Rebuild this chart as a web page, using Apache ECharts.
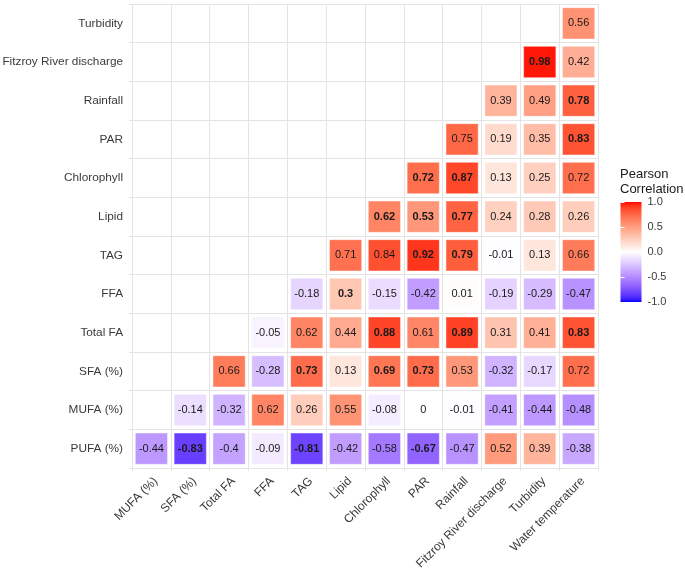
<!DOCTYPE html>
<html>
<head>
<meta charset="utf-8">
<script src="https://cdn.jsdelivr.net/npm/echarts@6/dist/echarts.min.js"></script>
<style>html,body{margin:0;padding:0;background:#fff;}#chart{width:685px;height:571px;}</style>
</head>
<body>
<div id="chart"></div>
<script>
// Categories
const xCategories = ['MUFA (%)','SFA (%)','Total FA','FFA','TAG','Lipid','Chlorophyll','PAR','Rainfall','Fitzroy River discharge','Turbidity','Water temperature'];
const yCategories = ['PUFA (%)','MUFA (%)','SFA (%)','Total FA','FFA','TAG','Lipid','Chlorophyll','PAR','Rainfall','Fitzroy River discharge','Turbidity'];

// Correlation rows (row i starts at x column i)
const rowPUFA    = [-0.44,-0.83,-0.4,-0.09,-0.81,-0.42,-0.58,-0.67,-0.47,0.52,0.39,-0.38];
const rowMUFA    = [-0.14,-0.32,0.62,0.26,0.55,-0.08,0,-0.01,-0.41,-0.44,-0.48];
const rowSFA     = [0.66,-0.28,0.73,0.13,0.69,0.73,0.53,-0.32,-0.17,0.72];
const rowTotalFA = [-0.05,0.62,0.44,0.88,0.61,0.89,0.31,0.41,0.83];
const rowFFA     = [-0.18,0.3,-0.15,-0.42,0.01,-0.19,-0.29,-0.47];
const rowTAG     = [0.71,0.84,0.92,0.79,-0.01,0.13,0.66];
const rowLipid   = [0.62,0.53,0.77,0.24,0.28,0.26];
const rowChl     = [0.72,0.87,0.13,0.25,0.72];
const rowPAR     = [0.75,0.19,0.35,0.83];
const rowRain    = [0.39,0.49,0.78];
const rowFitz    = [0.98,0.42];
const rowTurb    = [0.56];

// Significance flags (bold labels)
const sigPUFA    = [0,1,0,0,1,0,0,1,0,0,0,0];
const sigMUFA    = [0,0,0,0,0,0,0,0,0,0,0];
const sigSFA     = [0,0,1,0,1,1,0,0,0,0];
const sigTotalFA = [0,0,0,1,0,1,0,0,1];
const sigFFA     = [0,1,0,0,0,0,0,0];
const sigTAG     = [0,0,1,1,0,0,0];
const sigLipid   = [1,1,1,0,0,0];
const sigChl     = [1,1,0,0,0];
const sigPAR     = [0,0,0,1];
const sigRain    = [0,0,1];
const sigFitz    = [1,0];
const sigTurb    = [0];

// Legend ticks
const legendMin = -1, legendMax = 1, legendStep = 0.5;
const legendTitle = 'Pearson\nCorrelation';

const rows = [rowPUFA,rowMUFA,rowSFA,rowTotalFA,rowFFA,rowTAG,rowLipid,rowChl,rowPAR,rowRain,rowFitz,rowTurb];
const sigs = [sigPUFA,sigMUFA,sigSFA,sigTotalFA,sigFFA,sigTAG,sigLipid,sigChl,sigPAR,sigRain,sigFitz,sigTurb];
const cellData = [];
rows.forEach((r, i) => r.forEach((v, j) => cellData.push([i + j, i, v, sigs[i][j]])));

// Lab colour interpolation (like ggplot scale_fill_gradient2)
function toLin(c){c/=255;return c<=0.04045?c/12.92:Math.pow((c+0.055)/1.055,2.4);}
function fromLin(c){c=c<=0.0031308?12.92*c:1.055*Math.pow(c,1/2.4)-0.055;return Math.round(Math.max(0,Math.min(1,c))*255);}
function rgb2lab(rgb){
  const r=toLin(rgb[0]),g=toLin(rgb[1]),b=toLin(rgb[2]);
  let X=(0.4124*r+0.3576*g+0.1805*b)/0.95047,Y=(0.2126*r+0.7152*g+0.0722*b),Z=(0.0193*r+0.1192*g+0.9505*b)/1.08883;
  const f=t=>t>0.008856?Math.cbrt(t):7.787*t+16/116;
  const fx=f(X),fy=f(Y),fz=f(Z);
  return [116*fy-16,500*(fx-fy),200*(fy-fz)];
}
function lab2rgb(lab){
  const fy=(lab[0]+16)/116,fx=fy+lab[1]/500,fz=fy-lab[2]/200;
  const fi=f=>{const c=f*f*f;return c>0.008856?c:(f-16/116)/7.787;};
  const X=fi(fx)*0.95047,Y=fi(fy),Z=fi(fz)*1.08883;
  const r=3.2406*X-1.5372*Y-0.4986*Z,g=-0.9689*X+1.8758*Y+0.0415*Z,b=0.0557*X-0.2040*Y+1.0570*Z;
  return 'rgb('+fromLin(r)+','+fromLin(g)+','+fromLin(b)+')';
}
const LAB_BLUE=rgb2lab([0,0,255]),LAB_WHITE=rgb2lab([255,255,255]),LAB_RED=rgb2lab([255,0,0]);
function corrColor(v){
  const t=Math.min(1,Math.abs(v)); const end=v<0?LAB_BLUE:LAB_RED;
  return lab2rgb([0,1,2].map(k=>LAB_WHITE[k]+(end[k]-LAB_WHITE[k])*t));
}
const gradStops=[];
for(let k=0;k<=40;k++){const v=legendMax-(legendMax-legendMin)*k/40;gradStops.push({offset:k/40,color:corrColor(v)});}

const FONT='"Liberation Sans", Arial, sans-serif';
const GRIDC='#e4e4e4';
const chart = echarts.init(document.getElementById('chart'), null, {renderer:'canvas'});
chart.setOption({
  animation:false,
  backgroundColor:'#fff',
  textStyle:{fontFamily:FONT},
  title:{text:legendTitle,left:620,top:167,padding:0,textStyle:{fontSize:13,fontWeight:'normal',color:'#1a1a1a',lineHeight:15,fontFamily:FONT}},
  grid:[
    {left:132,top:4,right:87,bottom:103,containLabel:false,outerBoundsMode:'none'},
    {left:620.5,top:202,width:21,height:100,outerBoundsMode:'none'}
  ],
  xAxis:[
    {type:'category',data:xCategories,gridIndex:0,boundaryGap:true,
     axisLine:{show:false},
     axisTick:{show:true,length:3,lineStyle:{color:GRIDC}},
     splitLine:{show:true,lineStyle:{color:GRIDC,width:1}},
     axisLabel:{interval:0,rotate:45,margin:7,verticalAlign:'top',fontSize:12,color:'#3a3a3a',fontFamily:FONT}},
    {type:'value',gridIndex:1,min:0,max:1,show:false}
  ],
  yAxis:[
    {type:'category',data:yCategories,gridIndex:0,boundaryGap:true,
     axisLine:{show:false},
     axisTick:{show:true,length:3,lineStyle:{color:GRIDC}},
     splitLine:{show:true,lineStyle:{color:GRIDC,width:1}},
     axisLabel:{interval:0,margin:9,fontSize:11.8,color:'#3a3a3a',fontFamily:FONT}},
    {type:'value',gridIndex:1,min:legendMin,max:legendMax,interval:legendStep,position:'right',z:10,
     axisLine:{show:false},splitLine:{show:false},
     axisTick:{show:true,inside:true,length:4,lineStyle:{color:'#fff',width:1}},
     axisLabel:{margin:6,fontSize:11,color:'#3a3a3a',fontFamily:FONT,formatter:v=>v.toFixed(1)}},
    {type:'value',gridIndex:1,min:legendMin,max:legendMax,interval:legendStep,position:'left',z:10,
     axisLine:{show:false},splitLine:{show:false},
     axisTick:{show:true,inside:true,length:4,lineStyle:{color:'#fff',width:1}},
     axisLabel:{show:false}}
  ],
  series:[
    {type:'custom',xAxisIndex:0,yAxisIndex:0,data:cellData,encode:{x:0,y:1},
     renderItem:function(params,api){
       const c=api.coord([api.value(0),api.value(1)]);
       const s=api.size([1,1]);
       const w=s[0]*0.83,h=s[1]*0.81;
       const v=api.value(2),sig=api.value(3);
       return {type:'group',children:[
         {type:'rect',shape:{x:c[0]-w/2,y:c[1]-h/2,width:w,height:h},
          style:{fill:corrColor(v),stroke:'rgba(255,255,255,0.45)',lineWidth:1}},
         {type:'text',x:c[0],y:c[1],
          style:{text:String(v),fill:'#1a1a1a',fontSize:11,fontWeight:sig?'bold':'normal',
                 fontFamily:FONT,align:'center',verticalAlign:'middle'}}
       ]};
     }},
    {type:'custom',xAxisIndex:1,yAxisIndex:1,data:[[0,0]],z:1,
     renderItem:function(params,api){
       const cs=params.coordSys;
       return {type:'rect',shape:{x:cs.x,y:cs.y,width:cs.width,height:cs.height},
               style:{fill:new echarts.graphic.LinearGradient(0,0,0,1,gradStops)}};
     }}
  ]
});
</script>
</body>
</html>
